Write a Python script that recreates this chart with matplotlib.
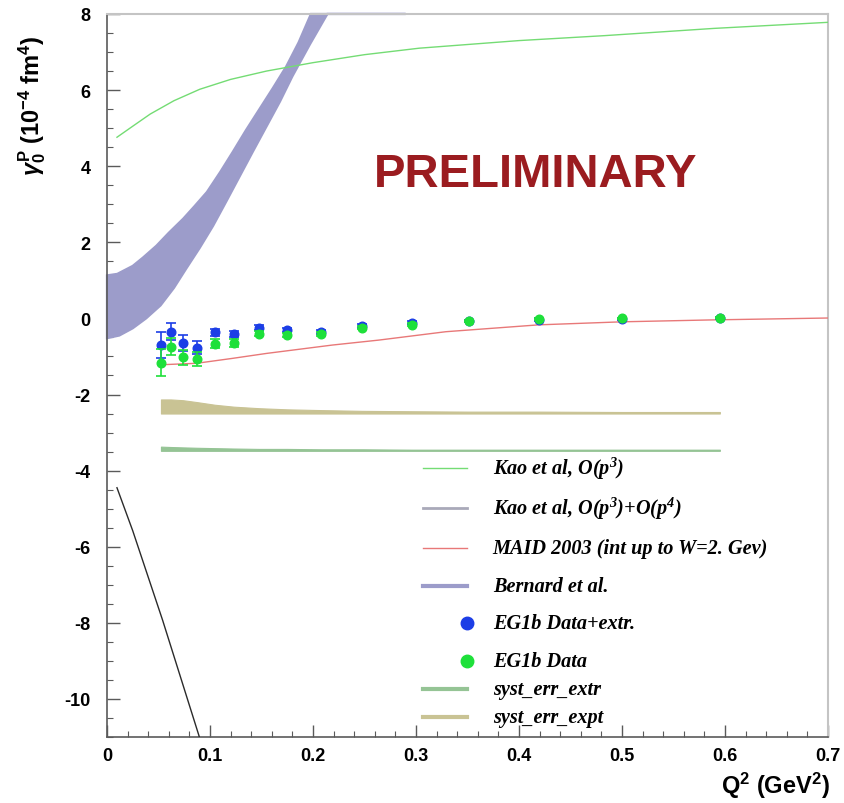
import numpy as np
import matplotlib
matplotlib.use("Agg")
import matplotlib.pyplot as plt
from matplotlib.lines import Line2D
from matplotlib.ticker import MultipleLocator

plt.rcParams["font.family"] = ["Liberation Sans", "DejaVu Sans"]
plt.rcParams["axes.unicode_minus"] = False
plt.rcParams["mathtext.fontset"] = "custom"
plt.rcParams["mathtext.rm"] = "Liberation Serif:bold:italic"
plt.rcParams["mathtext.it"] = "Liberation Sans:italic:bold"
plt.rcParams["mathtext.sf"] = "Liberation Sans:bold"
plt.rcParams["mathtext.bf"] = "Liberation Sans:bold"

# --- EG1b measurements -------------------------------------------------------
q2 = [0.0524, 0.0621, 0.0738, 0.0874, 0.1049, 0.1233, 0.1476, 0.1748,
      0.2078, 0.2476, 0.296, 0.351, 0.419, 0.500, 0.595]
gamma_extr = [-0.70, -0.35, -0.65, -0.77, -0.37, -0.41, -0.24, -0.30,
              -0.35, -0.19, -0.11, -0.06, -0.03, -0.01, 0.01]
gamma_extr_err = [0.35, 0.22, 0.21, 0.17, 0.10, 0.09, 0.07, 0.06,
                  0.05, 0.05, 0.04, 0.03, 0.03, 0.02, 0.02]
gamma_data = [-1.16, -0.74, -1.02, -1.07, -0.67, -0.64, -0.40, -0.44,
              -0.42, -0.24, -0.17, -0.07, -0.02, 0.00, 0.02]
gamma_data_err = [0.36, 0.22, 0.20, 0.18, 0.12, 0.10, 0.07, 0.06,
                  0.05, 0.05, 0.04, 0.03, 0.03, 0.02, 0.02]

# systematic error bands (upper edge, lower edge)
syst_expt_hi = [-2.13, -2.13, -2.15, -2.20, -2.27, -2.32, -2.36, -2.39,
                -2.41, -2.43, -2.44, -2.45, -2.45, -2.46, -2.46]
syst_expt_lo = [-2.50] * 15
syst_extr_hi = [-3.37, -3.38, -3.39, -3.40, -3.41, -3.42, -3.43, -3.43,
                -3.44, -3.44, -3.45, -3.45, -3.45, -3.45, -3.45]
syst_extr_lo = [-3.48] * 15

# --- theory curves -----------------------------------------------------------
kao3_q2 = [0.0097, 0.025, 0.042, 0.065, 0.090, 0.12, 0.155, 0.20, 0.25,
           0.303, 0.40, 0.483, 0.589, 0.70]
kao3_val = [4.76, 5.05, 5.37, 5.72, 6.02, 6.28, 6.50, 6.72, 6.93,
            7.10, 7.30, 7.43, 7.62, 7.78]

kao34_q2 = [0.0097, 0.025, 0.054, 0.089, 0.093]
kao34_val = [-4.45, -5.58, -7.93, -10.94, -11.3]

maid_q2 = [0.051, 0.087, 0.122, 0.155, 0.219, 0.264, 0.329, 0.419,
           0.50, 0.587, 0.70]
maid_val = [-1.22, -1.18, -1.05, -0.92, -0.70, -0.57, -0.35, -0.17,
            -0.09, -0.04, 0.01]

bern_up_q2 = [0.0, 0.01, 0.025, 0.035, 0.048, 0.06, 0.074, 0.085, 0.097,
              0.11, 0.122, 0.135, 0.148, 0.161, 0.174, 0.186, 0.198, 0.29]
bern_up_val = [1.13, 1.17, 1.38, 1.60, 1.91, 2.25, 2.62, 2.95, 3.32,
               3.85, 4.37, 4.95, 5.50, 6.05, 6.62, 7.25, 8.0, 8.0]
bern_lo_q2 = [0.0, 0.012, 0.025, 0.038, 0.052, 0.065, 0.077, 0.090, 0.103,
              0.116, 0.129, 0.142, 0.155, 0.168, 0.180, 0.197, 0.214, 0.29]
bern_lo_val = [-0.52, -0.45, -0.26, 0.0, 0.34, 0.80, 1.31, 1.85, 2.43,
               3.08, 3.74, 4.40, 5.05, 5.70, 6.36, 7.20, 8.0, 8.0]

# --- colours -------------------------------------------------------------------
c_kao3 = "#74dc74"
c_kao34 = "#2b2b2b"
c_kao34_key = "#a9a9b9"
c_maid = "#e87878"
c_bern = "#9c9cca"
c_blue = "#1c3ee6"
c_green = "#1ee03a"
c_extr = "#95c495"
c_expt = "#c9c394"

fig = plt.figure(figsize=(8.45, 8.04), dpi=100)
ax = fig.add_axes([0.1266, 0.0821, 0.8533, 0.8993])
ax.set_xlim(0, 0.7)
ax.set_ylim(-11, 8)

# Bernard et al. band
ax.fill(np.concatenate([bern_up_q2, bern_lo_q2[::-1]]),
        np.concatenate([bern_up_val, bern_lo_val[::-1]]),
        facecolor=c_bern, edgecolor=c_bern, linewidth=1.6, clip_on=False,
        zorder=2)

# systematic bands
ax.fill_between(q2, syst_expt_lo, syst_expt_hi, facecolor=c_expt,
                edgecolor=c_expt, linewidth=0.8, zorder=2)
ax.fill_between(q2, syst_extr_lo, syst_extr_hi, facecolor=c_extr,
                edgecolor=c_extr, linewidth=0.8, zorder=2)

# theory lines
ax.plot(kao3_q2, kao3_val, color=c_kao3, lw=1.0, zorder=3)
ax.plot(kao34_q2, kao34_val, color=c_kao34, lw=1.0, zorder=3)
ax.plot(maid_q2, maid_val, color=c_maid, lw=1.0, zorder=3)

# data
ax.errorbar(q2, gamma_extr, yerr=gamma_extr_err, fmt="o", color=c_blue,
            ms=6.2, capsize=3.5, elinewidth=1.2, capthick=1.2, zorder=4)
ax.errorbar(q2, gamma_data, yerr=gamma_data_err, fmt="o", color=c_green,
            ms=6.2, capsize=3.5, elinewidth=1.2, capthick=1.2, zorder=5)

# axes styling
for side in ("left", "bottom"):
    ax.spines[side].set_color("#5a5a5a")
    ax.spines[side].set_linewidth(1.2)
for side in ("top", "right"):
    ax.spines[side].set_color("#c4c4c4")
    ax.spines[side].set_linewidth(1.5)

ax.xaxis.set_major_locator(MultipleLocator(0.1))
ax.xaxis.set_minor_locator(MultipleLocator(0.02))
ax.yaxis.set_major_locator(MultipleLocator(2))
ax.yaxis.set_minor_locator(MultipleLocator(0.5))
ax.tick_params(which="both", direction="in", top=False, right=False,
               color="#5a5a5a")
ax.tick_params(which="major", length=9, width=1.0)
ax.tick_params(which="minor", length=4.5, width=0.8)
ax.tick_params(axis="x", which="major", pad=7, labelsize=13)
ax.tick_params(axis="y", which="major", pad=12, labelsize=13)
ax.set_xticks([0, 0.1, 0.2, 0.3, 0.4, 0.5, 0.6, 0.7])
ax.set_xticklabels(["0", "0.1", "0.2", "0.3", "0.4", "0.5", "0.6", "0.7"])
for lab in ax.get_xticklabels() + ax.get_yticklabels():
    lab.set_fontweight("bold")

ax.set_ylabel(r"$\gamma_{\mathsf{0}}^{\mathsf{P}}$ (10$^{\mathsf{-4}}$ fm$^{\mathsf{4}}$)",
              fontsize=17, fontweight="bold")
ax.yaxis.set_label_coords(-0.082, 0.875)
ax.set_xlabel(r"Q$^{\mathsf{2}}$ (GeV$^{\mathsf{2}}$)", fontsize=17,
              fontweight="bold")
ax.xaxis.label.set_horizontalalignment("right")
ax.xaxis.set_label_coords(1.003, -0.045)

ax.text(0.594, 0.779, "PRELIMINARY", transform=ax.transAxes,
        ha="center", va="center", fontsize=34, fontweight="bold",
        color="#9b1c20")

# key
key_entries = [
    ("line", c_kao3, 1.0, r"Kao et al, O(p$^{3}$)"),
    ("line", c_kao34_key, 2.0, r"Kao et al, O(p$^{3}$)+O(p$^{4}$)"),
    ("line", c_maid, 1.0, "MAID 2003 (int up to W=2. Gev)"),
    ("line", c_bern, 3.0, "Bernard et al."),
    ("dot", c_blue, 0, "EG1b Data+extr."),
    ("dot", c_green, 0, "EG1b Data"),
    ("line", c_extr, 3.0, "syst_err_extr"),
    ("line", c_expt, 3.0, "syst_err_expt"),
]
key_rows = [0.372, 0.317, 0.261, 0.209, 0.158, 0.105, 0.066, 0.028]
for (kind, col, lw, label), yk in zip(key_entries, key_rows):
    if kind == "line":
        ax.add_line(Line2D([0.438, 0.499], [yk, yk], color=col, lw=lw,
                           transform=ax.transAxes))
    else:
        ax.add_line(Line2D([0.499], [yk], marker="o", ms=9, color=col,
                           lw=0, transform=ax.transAxes))
    ax.text(0.535, yk, label, transform=ax.transAxes, ha="left",
            va="center", fontsize=14.6, family="Liberation Serif",
            fontweight="bold", fontstyle="italic")

fig.savefig("out.png", dpi=100)
